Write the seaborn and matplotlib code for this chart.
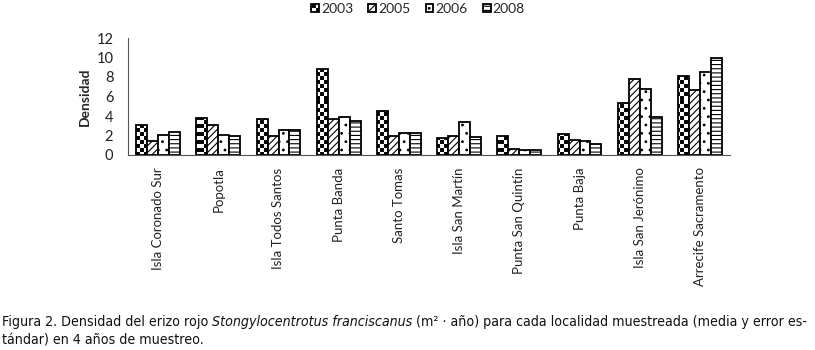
import warnings
import numpy as np
import pandas as pd
import matplotlib
matplotlib.use("Agg")
import matplotlib.pyplot as plt
import matplotlib.hatch as mhatch
from matplotlib.path import Path
from matplotlib.offsetbox import TextArea, HPacker, AnchoredOffsetbox
import seaborn as sns

warnings.filterwarnings("ignore")

# data
localidades = ["Isla Coronado Sur", "Popotla", "Isla Todos Santos", "Punta Banda",
               "Santo Tomas", "Isla San Martín", "Punta San Quintín", "Punta Baja",
               "Isla San Jerónimo", "Arrecife Sacramento"]
years = ["2003", "2005", "2006", "2008"]
d2003 = [3.1, 3.8, 3.7, 8.8, 4.5, 1.7, 2.0, 2.2, 5.3, 8.1]
d2005 = [1.4, 3.1, 2.0, 3.7, 1.9, 2.0, 0.6, 1.5, 7.8, 6.7]
d2006 = [2.1, 2.1, 2.6, 3.9, 2.3, 3.4, 0.5, 1.4, 6.8, 8.5]
d2008 = [2.4, 2.0, 2.6, 3.5, 2.3, 1.8, 0.5, 1.1, 3.9, 9.9]
hatches = ["ccccc", "/////", "..", "----"]


# checkerboard fill pattern (Excel style), registered as hatch character 'c'
class CheckerHatch(mhatch.HatchPatternBase):
    def __init__(self, hatch, density):
        self.n = hatch.count("c") * 5
        self.num_vertices = ((self.n * self.n + 1) // 2) * 5

    def set_vertices_and_codes(self, vertices, codes):
        s = 1.0 / self.n
        m = 0.15 * s
        sq = np.array([[m, m], [s - m, m], [s - m, s - m], [m, s - m], [m, m]])
        cells = [(i, j) for i in range(self.n) for j in range(self.n) if (i + j) % 2 == 0]
        vertices[:] = np.concatenate([sq + [i * s, j * s] for i, j in cells])
        codes[:] = np.tile([Path.MOVETO, Path.LINETO, Path.LINETO, Path.LINETO, Path.CLOSEPOLY],
                           len(cells))


mhatch._hatch_types.append(CheckerHatch)

df = pd.DataFrame({
    "loc": localidades * 4,
    "dens": d2003 + d2005 + d2006 + d2008,
    "year": [y for y in years for _ in localidades],
})

sns.set_style("white")
plt.rcParams["font.family"] = ["Lato", "DejaVu Sans"]
plt.rcParams["hatch.linewidth"] = 0.8

fig = plt.figure(figsize=(8.15, 3.5), dpi=100)
ax = fig.add_axes([128 / 815, 1 - 155 / 350, 602 / 815, 117 / 350])

sns.barplot(data=df, x="loc", y="dens", hue="year", palette=["white"] * 4,
            edgecolor="black", linewidth=1.3, width=0.73, gap=0, legend=False, ax=ax)

for cont, h in zip(ax.containers, hatches):
    for p in cont.patches:
        p.set_hatch(h)

ax.set_ylim(0, 12)
ax.set_yticks(range(0, 13, 2))
ax.set_xlim(-0.5, 9.5)
ax.set_xticks(range(10))
ax.set_xticklabels(localidades, rotation=90, fontsize=9.5, color="#222222")
ax.set_xticks(np.arange(-0.5, 10, 1), minor=True)
ax.tick_params(axis="x", which="major", length=0, pad=9)
ax.tick_params(axis="x", which="minor", length=5, width=0.8, color="#555555", direction="out")
ax.tick_params(axis="y", length=3.6, width=0.8, color="#555555", direction="out",
               labelsize=10.5, pad=7, labelcolor="#222222")
ax.set_xlabel("")
ax.set_ylabel("Densidad", fontsize=10, fontweight="bold", labelpad=4)
sns.despine(ax=ax)
for s in ["left", "bottom"]:
    ax.spines[s].set_color("#555555")
    ax.spines[s].set_linewidth(0.8)

fig.legend(ax.containers, years, loc="center", bbox_to_anchor=(418 / 815, 1 - 9 / 350),
           ncol=4, frameon=False, fontsize=10, handlelength=0.55, handleheight=0.55,
           handletextpad=0.15, columnspacing=1.1, borderpad=0)

# caption: plain / italic / plain pieces in a row
cap = dict(family="DejaVu Sans", stretch="condensed", size=10.2, color="#111111")
cap_it = dict(cap, style="italic")
line1 = HPacker(children=[
    TextArea("Figura 2. Densidad del erizo rojo", textprops=cap),
    TextArea("Stongylocentrotus franciscanus", textprops=cap_it),
    TextArea("(m² · año) para cada localidad muestreada (media y error es-", textprops=cap),
], pad=0, sep=2.8, align="baseline")
fig.add_artist(AnchoredOffsetbox(loc="center left", child=line1, pad=0, borderpad=0,
                                 frameon=False, bbox_to_anchor=(2 / 815, 1 - 322 / 350),
                                 bbox_transform=fig.transFigure))
fig.text(2 / 815, 1 - 340 / 350, "tándar) en 4 años de muestreo.", va="center", **cap)

fig.savefig("out.png", dpi=100)
